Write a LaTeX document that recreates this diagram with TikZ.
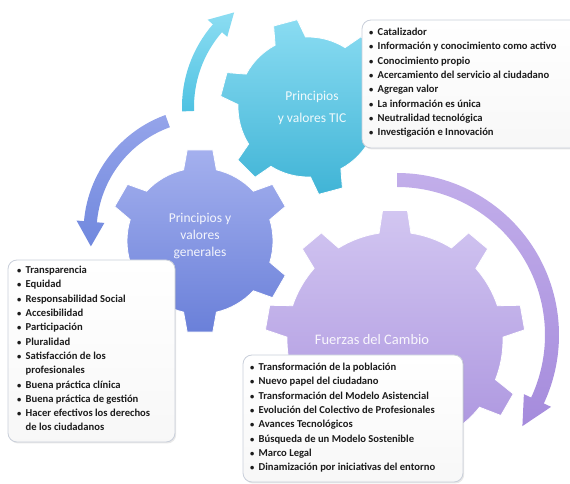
\documentclass[tikz,border=0pt]{standalone}
\usepackage{fontspec}
\setmainfont{Carlito}
\usetikzlibrary{shadows}
\definecolor{cyT}{HTML}{8ADCF2}
\definecolor{cyB}{HTML}{40B4D6}
\definecolor{blT}{HTML}{A4B0EE}
\definecolor{blB}{HTML}{6A80D9}
\definecolor{puT}{HTML}{D2C6F1}
\definecolor{puB}{HTML}{A890DD}
\definecolor{cyaT}{HTML}{8CDDF2}
\definecolor{cyaB}{HTML}{4FC2E2}
\definecolor{blaT}{HTML}{95A4EA}
\definecolor{blaB}{HTML}{7088DE}
\definecolor{puaT}{HTML}{C2AEEA}
\definecolor{puaB}{HTML}{A58BDC}
\definecolor{boxline}{HTML}{C9CFDA}
\definecolor{boxtext}{HTML}{1C1C1C}
% gear: #1 opts, #2 (unused), #3 (unused), #4 teeth, #5 first tooth angle, #6 outer R, #7 root r, #8 tip half angle, #9 base half angle
\newcommand{\mygear}[9]{%
  \shadedraw[#1] ({#5-#9}:#7pt)
  \foreach \k in {1,...,#4}{
    -- ({#5+(\k-1)*360/#4-#8}:#6pt) -- ({#5+(\k-1)*360/#4+#8}:#6pt) -- ({#5+(\k-1)*360/#4+#9}:#7pt)
    arc[start angle={#5+(\k-1)*360/#4+#9}, end angle={#5+\k*360/#4-#9}, radius=#7pt]
  } -- cycle;}
% arrow: #1 opts, #2 start angle, #3 end angle, #4 radius, #5 half width, #6 head half width, #7 tip angle
\newcommand{\arcarrow}[7]{%
  \shade[#1] ({#2}:{(#4+#5)*1pt}) arc[start angle=#2, end angle=#3, radius={(#4+#5)*1pt}]
    -- ({#3}:{(#4+#6)*1pt}) -- ({#7}:{#4*1pt}) -- ({#3}:{(#4-#6)*1pt})
    -- ({#3}:{(#4-#5)*1pt}) arc[start angle=#3, end angle=#2, radius={(#4-#5)*1pt}] -- cycle;}
\newcommand{\bl}{{\fontsize{8.5}{10}\selectfont\textbullet}\hspace{0.4em}}
\newcommand{\ind}{\phantom{\fontsize{8.5}{10}\selectfont\textbullet}\hspace{0.4em}}
\tikzset{
  listbox/.style={rounded corners=9pt, draw=boxline, line width=0.8pt, top color=white, bottom color=white!94!gray,
    drop shadow={opacity=0.18, shadow xshift=1.2pt, shadow yshift=-1.5pt}},
  listtext/.style={anchor=north west, inner sep=0pt, align=left, text=boxtext,
    font=\fontsize{10.6}{14.3}\selectfont\bfseries},
  geartext/.style={align=center, text=white, text opacity=0.9, inner sep=0pt},
}
\begin{document}
\begin{tikzpicture}[x=1pt,y=1pt]
\useasboundingbox (0,0) rectangle (570,484);
\clip (0,0) rectangle (570,484);
% arrows
\arcarrow{shift={(308,377)}, top color=cyaT, bottom color=cyaB}{182}{139}{120}{6}{13}{128}
\arcarrow{shift={(208,252)}, top color=blaT, bottom color=blaB}{110}{175}{118}{6.5}{14}{187}
\arcarrow{shift={(397,149)}, top color=puaT, bottom color=puaB}{90}{-25}{155}{7}{15}{-36}
% gears
\mygear{shift={(395,144)}, top color=puT, bottom color=puB, draw=white, line width=0.8pt}{}{}{9}{10}{130}{108}{5.5}{8.5}
\mygear{shift={(200,243)}, top color=blT, bottom color=blB, draw=white, line width=0.8pt}{}{}{6}{30}{92}{73}{8}{13}
\mygear{shift={(308,377)}, top color=cyT, bottom color=cyB, draw=white, line width=0.8pt}{}{}{6}{45}{88}{70}{8}{13}
% gear labels
\node[geartext, font=\fontsize{13.5}{22}\selectfont] (gtic) at (312,376) {Principios\\y valores TIC};
\node[geartext, font=\fontsize{13.5}{17}\selectfont] (ggen) at (200,248) {Principios y\\valores\\generales};
\node[geartext, font=\fontsize{14.5}{17}\selectfont] (gfue) at (372,144) {Fuerzas del Cambio};
% boxes
\path[listbox] (362,336) rectangle (585,464);
\path[listbox] (8,42) rectangle (175,224);
\path[listbox] (243,2) rectangle (463,129);
\node[listtext] (ltic) at (369,456) {\bl Catalizador\\ \bl Información y conocimiento como activo\\ \bl Conocimiento propio\\ \bl Acercamiento del servicio al ciudadano\\ \bl Agregan valor\\ \bl La información es única\\ \bl Neutralidad tecnológica\\ \bl Investigación e Innovación};
\node[listtext] (lgen) at (17,218) {\bl Transparencia\\ \bl Equidad\\ \bl Responsabilidad Social\\ \bl Accesibilidad\\ \bl Participación\\ \bl Pluralidad\\ \bl Satisfacción de los\\ \ind profesionales\\ \bl Buena práctica clínica\\ \bl Buena práctica de gestión\\ \bl Hacer efectivos los derechos\\ \ind de los ciudadanos};
\node[listtext] (lfue) at (250,121) {\bl Transformación de la población\\ \bl Nuevo papel del ciudadano\\ \bl Transformación del Modelo Asistencial\\ \bl Evolución del Colectivo de Profesionales\\ \bl Avances Tecnológicos\\ \bl Búsqueda de un Modelo Sostenible\\ \bl Marco Legal\\ \bl Dinamización por iniciativas del entorno};
\end{tikzpicture}
\end{document}
